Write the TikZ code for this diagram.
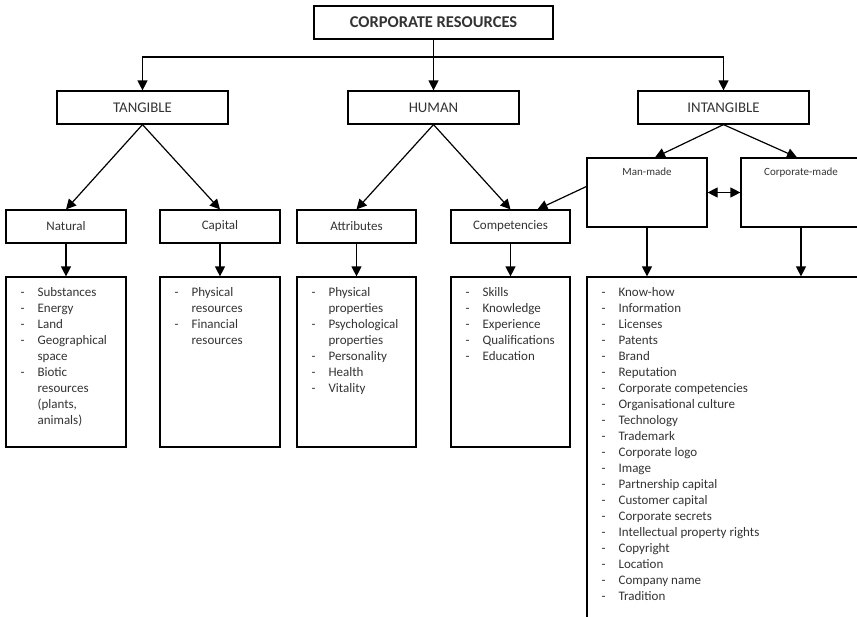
\documentclass[tikz,border=0pt]{standalone}
\usepackage{fontspec}
\setmainfont{Carlito}
\usetikzlibrary{arrows.meta}

\begin{document}
\begin{tikzpicture}[x=1pt,y=-1pt,
	box/.style={draw, line width=1.2pt, inner sep=0pt, text=black!80},
	arr/.style={line width=1.2pt, -{Triangle[length=10pt,width=10pt]}},
	items/.style={anchor=north west, inner sep=0pt, align=left, text=black!80}]
	\useasboundingbox (0,0) rectangle (857,616);
	\clip (0,0) rectangle (857,616);
	% top level
	\node[box, minimum width=239pt, minimum height=33pt, font=\fontsize{16.5}{20}\selectfont\bfseries] (top) at (433.5,22.5) {CORPORATE RESOURCES};
	\coordinate (bar) at (433.5,57);
	% three groups
	\node[box, minimum width=171pt, minimum height=33pt, font=\fontsize{14.8}{18}\selectfont] (tang) at (142.5,107.5) {TANGIBLE};
	\node[box, minimum width=171pt, minimum height=33pt, font=\fontsize{14.8}{18}\selectfont] (human) at (433.5,107.5) {HUMAN};
	\node[box, minimum width=171pt, minimum height=33pt, font=\fontsize{14.8}{18}\selectfont] (intang) at (723.5,107.5) {INTANGIBLE};
	% second row
	\node[box, minimum width=120pt, minimum height=33pt, font=\fontsize{13}{16}\selectfont] (nat) at (66,226.5) {Natural};
	\node[box, minimum width=120pt, minimum height=33pt, font=\fontsize{13}{16}\selectfont] (cap) at (220,226.5) {Capital};
	\node[box, minimum width=119pt, minimum height=33pt, font=\fontsize{13}{16}\selectfont] (attr) at (356.5,226.5) {Attributes};
	\node[box, minimum width=119pt, minimum height=33pt, font=\fontsize{13}{16}\selectfont] (comp) at (510.5,226.5) {Competencies};
	\node[box, minimum width=120pt, minimum height=69pt,
		label={[anchor=north, inner sep=0pt, yshift=-10pt, text=black!80, font=\fontsize{11}{13}\selectfont]north:Man-made}] (man) at (647,192.5) {};
	\node[box, minimum width=120pt, minimum height=69pt,
		label={[anchor=north, inner sep=0pt, yshift=-10pt, text=black!80, font=\fontsize{11}{13}\selectfont]north:Corporate-made}] (corp) at (801,192.5) {};
	% list boxes
	\node[box, minimum width=120pt, minimum height=170pt] (natl) at (66,362) {};
	\node[box, minimum width=120pt, minimum height=170pt] (capl) at (220,362) {};
	\node[box, minimum width=119pt, minimum height=170pt] (attrl) at (356.5,362) {};
	\node[box, minimum width=119pt, minimum height=170pt] (compl) at (510.5,362) {};
	\node[box, minimum width=313pt, minimum height=373pt] (intl) at (743.5,463.5) {};
	% list texts
	\node[items, font=\fontsize{13}{16}\selectfont] (natt) at ([xshift=15pt,yshift=-9pt]natl.north west) {%
		\begin{tabular}{@{}p{17pt}@{}l@{}}
		- & Substances\\ - & Energy\\ - & Land\\ - & Geographical\\ & space\\
		- & Biotic\\ & resources\\ & (plants,\\ & animals)
		\end{tabular}};
	\node[items, font=\fontsize{13}{16}\selectfont] (capt) at ([xshift=15pt,yshift=-9pt]capl.north west) {%
		\begin{tabular}{@{}p{17pt}@{}l@{}}
		- & Physical\\ & resources\\ - & Financial\\ & resources
		\end{tabular}};
	\node[items, font=\fontsize{13}{16}\selectfont] (attrt) at ([xshift=15pt,yshift=-9pt]attrl.north west) {%
		\begin{tabular}{@{}p{17pt}@{}l@{}}
		- & Physical\\ & properties\\ - & Psychological\\ & properties\\
		- & Personality\\ - & Health\\ - & Vitality
		\end{tabular}};
	\node[items, font=\fontsize{13}{16}\selectfont] (compt) at ([xshift=15pt,yshift=-9pt]compl.north west) {%
		\begin{tabular}{@{}p{17pt}@{}l@{}}
		- & Skills\\ - & Knowledge\\ - & Experience\\ - & Qualifications\\ - & Education
		\end{tabular}};
	\node[items, font=\fontsize{13}{16}\selectfont] (intt) at ([xshift=15pt,yshift=-9pt]intl.north west) {%
		\begin{tabular}{@{}p{17pt}@{}l@{}}
		- & Know-how\\ - & Information\\ - & Licenses\\ - & Patents\\ - & Brand\\
		- & Reputation\\ - & Corporate competencies\\ - & Organisational culture\\
		- & Technology\\ - & Trademark\\ - & Corporate logo\\ - & Image\\
		- & Partnership capital\\ - & Customer capital\\ - & Corporate secrets\\
		- & Intellectual property rights\\ - & Copyright\\ - & Location\\
		- & Company name\\ - & Tradition
		\end{tabular}};
	% connectors
	\draw[arr] (top.south) -- (human.north);
	\draw[arr] (bar) -| (tang.north);
	\draw[arr] (bar) -| (intang.north);
	\draw[arr] (tang.south) -- (nat.north);
	\draw[arr] (tang.south) -- (cap.north);
	\draw[arr] (human.south) -- (attr.north);
	\draw[arr] (human.south) -- (comp.north);
	\draw[arr] (intang.south) -- ([xshift=8pt]man.north);
	\draw[arr] (intang.south) -- ([xshift=-4pt]corp.north);
	\draw[arr] ([yshift=6pt]man.west) -- ([xshift=27pt]comp.north);
	\draw[line width=1.2pt, {Triangle[length=10pt,width=10pt]}-{Triangle[length=10pt,width=10pt]}] (man.east) -- (corp.west);
	\draw[arr] (nat.south) -- (natl.north);
	\draw[arr] (cap.south) -- (capl.north);
	\draw[arr] (attr.south) -- (attrl.north);
	\draw[arr] (comp.south) -- (compl.north);
	\draw[arr] (man.south) -- (man.south |- intl.north);
	\draw[arr] (corp.south) -- (corp.south |- intl.north);
\end{tikzpicture}
\end{document}
